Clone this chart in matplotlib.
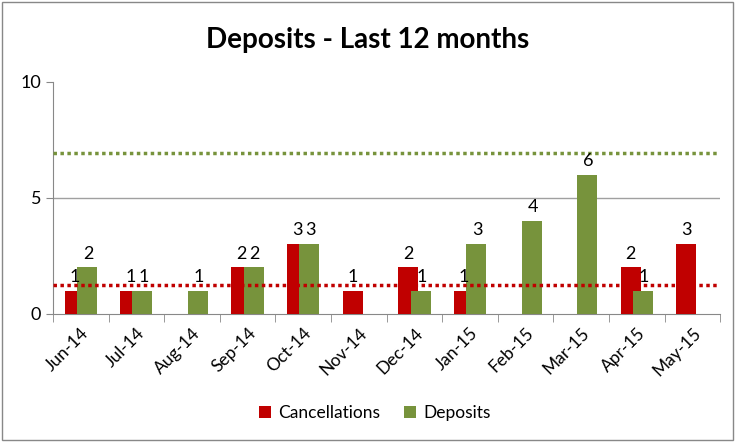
import numpy as np
import matplotlib.pyplot as plt
from matplotlib.patches import Rectangle

months = ['Jun-14', 'Jul-14', 'Aug-14', 'Sep-14', 'Oct-14', 'Nov-14',
          'Dec-14', 'Jan-15', 'Feb-15', 'Mar-15', 'Apr-15', 'May-15']
cancellations = [1, 1, 0, 2, 3, 1, 2, 1, 0, 0, 2, 3]
deposits = [2, 1, 1, 2, 3, 0, 1, 3, 4, 6, 1, 0]
cancel_line = 1.25
deposit_line = 6.93

red = '#c00000'
green = '#77933c'

plt.rcParams['font.family'] = ['Lato', 'DejaVu Sans']

fig = plt.figure(figsize=(7.35, 4.42), dpi=100)
ax = fig.add_axes([0.072, 0.29, 0.908, 0.525])

x = np.arange(len(months))
w = 0.36
off = 0.11

ax.bar(x - off, cancellations, w, color=red, label='Cancellations', zorder=3)
ax.bar(x + off, deposits, w, color=green, label='Deposits', zorder=4)

# value labels above each bar
for i in range(len(months)):
    if cancellations[i] > 0:
        ax.text(x[i] - off, cancellations[i] + 0.25, str(cancellations[i]),
                ha='center', va='bottom', fontsize=13, zorder=6)
    if deposits[i] > 0:
        ax.text(x[i] + off + 0.02, deposits[i] + 0.25, str(deposits[i]),
                ha='center', va='bottom', fontsize=13, zorder=6)

ax.axhline(cancel_line, color=red, linestyle=(0, (1, 1)), linewidth=2.5, zorder=5)
ax.axhline(deposit_line, color=green, linestyle=(0, (1, 1)), linewidth=2.5, zorder=5)
ax.axhline(5, color='#a0a0a0', linewidth=1, zorder=1)

ax.set_xlim(-0.5, len(months) - 0.5)
ax.set_ylim(0, 10)
ax.set_yticks([0, 5, 10])
ax.tick_params(axis='y', labelsize=13, length=5, color='#888888', direction='out')

ax.set_xticks(x)
ax.set_xticklabels(months, rotation=45, ha='right', rotation_mode='anchor', fontsize=12.5)
ax.tick_params(axis='x', length=0, pad=8)
ax.set_xticks(np.arange(-0.5, len(months), 1), minor=True)
ax.tick_params(axis='x', which='minor', length=6, color='#888888')

for s in ['top', 'right']:
    ax.spines[s].set_visible(False)
for s in ['left', 'bottom']:
    ax.spines[s].set_color('#888888')

fig.text(0.5, 0.91, 'Deposits - Last 12 months', ha='center', va='center',
         fontsize=20, fontweight='bold')

fig.legend(loc='center', bbox_to_anchor=(0.51, 0.065), ncol=2, frameon=False,
           fontsize=12.5, handlelength=0.7, handleheight=0.7, columnspacing=1.4,
           handletextpad=0.4)

fig.patches.append(Rectangle((0.003, 0.004), 0.994, 0.992, transform=fig.transFigure,
                             fill=False, edgecolor='#888888', linewidth=1))

fig.savefig('out.png', dpi=100)
